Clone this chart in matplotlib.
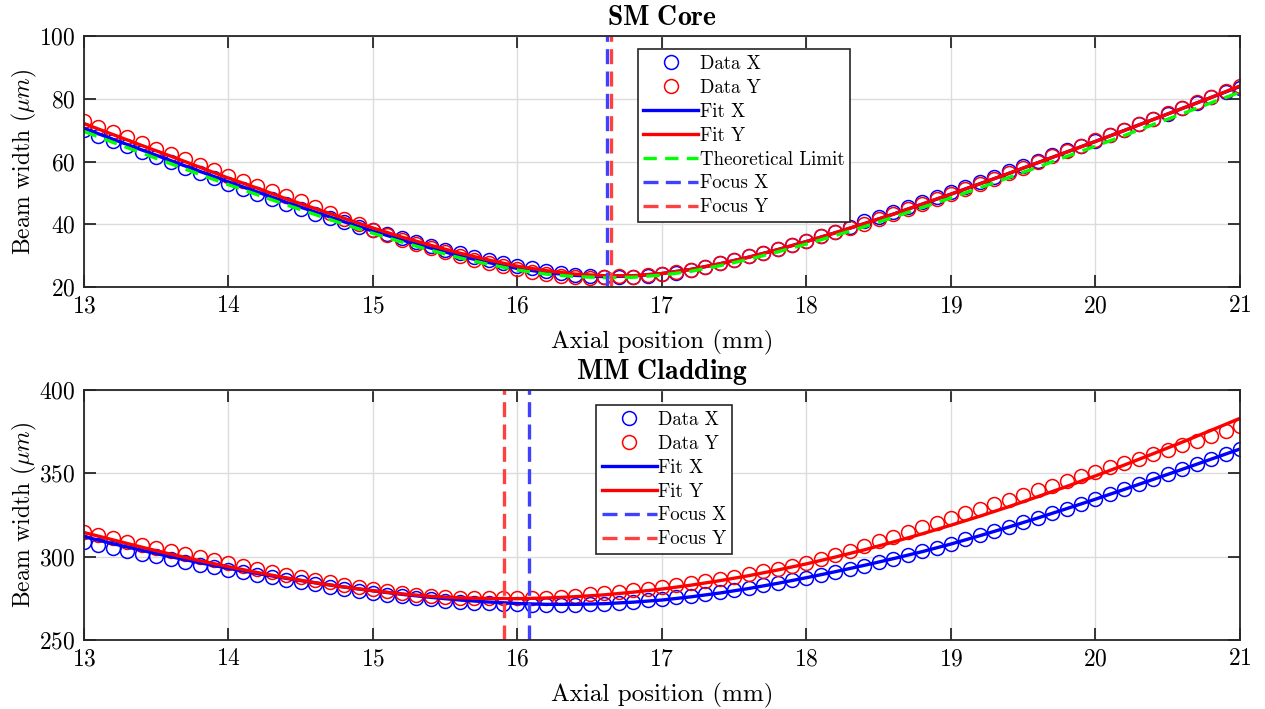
import numpy as np
import matplotlib
matplotlib.use("Agg")
import matplotlib.pyplot as plt

# axial positions (mm): measured points every 0.1 mm, fit curves every 0.2 mm
z_data = np.arange(130, 211) / 10
z_fit = np.arange(65, 106) / 5

# SM core (um)
sm_data_x = [70.0, 68.2, 66.5, 64.8, 63.1, 61.4, 59.7, 57.9, 56.3, 54.6,
             52.9, 51.3, 49.7, 48.0, 46.4, 44.9, 43.3, 42.0, 40.6, 39.2,
             38.2, 36.9, 35.7, 34.4, 33.2, 31.9, 30.7, 29.6, 28.6, 27.6,
             26.7, 25.9, 25.1, 24.4, 23.9, 23.5, 23.2, 23.1, 23.3, 23.6,
             24.0, 24.6, 25.3, 26.3, 27.5, 28.7, 29.8, 30.9, 32.2, 33.4,
             34.8, 36.1, 37.6, 39.2, 40.9, 42.4, 43.9, 45.5, 47.1, 48.7,
             50.3, 51.9, 53.6, 55.2, 56.9, 58.6, 60.3, 62.0, 63.7, 64.9,
             66.6, 68.3, 70.1, 71.8, 73.5, 75.3, 77.0, 78.8, 80.6, 82.3,
             83.3]
sm_data_y = [72.8, 71.1, 69.4, 67.7, 66.0, 64.1, 62.4, 60.7, 59.0, 57.4,
             55.5, 53.9, 52.3, 50.6, 49.0, 47.3, 45.5, 43.6, 41.8, 40.0,
             38.2, 36.5, 35.0, 33.7, 32.4, 31.0, 29.8, 28.7, 27.6, 26.7,
             25.6, 24.9, 24.3, 23.5, 23.2, 22.9, 23.3, 23.4, 23.3, 23.7,
             24.1, 24.7, 25.4, 26.5, 27.7, 28.7, 29.8, 30.9, 32.2, 33.4,
             34.8, 36.1, 37.6, 38.7, 40.2, 41.7, 43.2, 44.8, 46.4, 48.0,
             49.6, 51.2, 52.9, 54.5, 56.2, 58.0, 59.7, 61.6, 63.3, 65.0,
             66.7, 68.4, 70.2, 71.9, 73.7, 75.4, 77.2, 78.9, 80.7, 82.4,
             84.2]
sm_fit_x = [70.6, 67.1, 63.7, 60.3, 56.9, 53.5, 50.3, 47.0, 43.9, 40.8,
            37.8, 35.0, 32.4, 29.9, 27.8, 25.9, 24.6, 23.7, 23.3, 23.5,
            24.3, 25.6, 27.4, 29.5, 31.9, 34.5, 37.3, 40.2, 43.2, 46.4,
            49.6, 52.9, 56.2, 59.6, 63.0, 66.4, 69.9, 73.4, 76.9, 80.4,
            83.9]
sm_fit_y = [72.1, 68.6, 65.1, 61.7, 58.2, 54.7, 51.5, 48.1, 45.0, 41.9,
            38.8, 35.9, 33.3, 30.8, 28.6, 26.6, 25.2, 24.1, 23.6, 23.6,
            24.3, 25.6, 27.4, 29.5, 31.9, 34.5, 37.3, 40.2, 43.2, 46.4,
            49.6, 52.9, 56.2, 59.6, 63.0, 66.4, 69.9, 73.4, 76.9, 80.4,
            84.1]
sm_theory = [69.6, 66.1, 62.7, 59.3, 55.9, 52.6, 49.4, 46.2, 43.1, 40.0,
             37.1, 34.3, 31.7, 29.3, 27.2, 25.4, 24.1, 23.3, 23.0, 23.1,
             23.8, 25.0, 26.8, 28.8, 31.2, 33.7, 36.4, 39.2, 42.2, 45.3,
             48.4, 51.6, 54.9, 58.2, 61.6, 64.9, 68.3, 71.8, 75.2, 78.7,
             82.1]
sm_focus_x = 16.62
sm_focus_y = 16.65

# MM cladding (um)
mm_data_x = [309.0, 307.2, 305.4, 303.6, 301.9, 300.2, 298.5, 296.9, 295.3, 293.7,
             292.1, 290.6, 289.1, 287.6, 286.2, 284.8, 283.4, 282.1, 280.8, 279.6,
             278.4, 277.2, 276.2, 275.2, 274.4, 273.6, 273.0, 272.5, 272.1, 271.8,
             271.5, 271.2, 271.0, 271.0, 271.2, 271.5, 271.9, 272.5, 273.1, 273.9,
             274.7, 275.6, 276.6, 277.7, 278.9, 280.1, 281.4, 282.8, 284.3, 285.8,
             287.4, 289.1, 290.9, 292.8, 294.7, 296.7, 298.8, 300.9, 303.2, 305.5,
             307.9, 310.4, 312.9, 315.4, 318.0, 320.7, 323.4, 326.1, 328.9, 331.8,
             334.7, 337.6, 340.6, 343.5, 346.5, 349.5, 352.5, 355.5, 358.5, 361.5,
             364.6]
mm_data_y = [315.0, 313.0, 311.0, 309.1, 307.1, 305.2, 303.4, 301.5, 299.7, 297.9,
             296.1, 294.4, 292.6, 291.0, 289.3, 287.7, 286.2, 284.6, 283.2, 281.7,
             280.4, 279.2, 278.2, 277.3, 276.5, 275.9, 275.5, 275.2, 275.0, 275.0,
             275.0, 275.2, 275.5, 276.0, 276.7, 277.5, 278.3, 279.1, 279.9, 280.7,
             281.6, 282.8, 284.1, 285.4, 286.7, 288.1, 289.6, 291.2, 292.8, 294.5,
             296.3, 298.6, 301.1, 303.7, 306.4, 309.2, 312.0, 314.8, 317.6, 320.4,
             323.3, 326.0, 328.8, 331.5, 334.3, 337.1, 339.8, 342.6, 345.4, 348.2,
             351.0, 353.6, 356.2, 358.8, 361.4, 364.0, 366.8, 369.6, 372.4, 375.2,
             378.2]
mm_fit_x = [312.0, 307.8, 303.8, 300.0, 296.4, 293.0, 289.9, 287.0, 284.3, 281.8,
            279.5, 277.4, 275.6, 274.0, 272.8, 271.9, 271.4, 271.4, 271.8, 272.7,
            274.0, 275.9, 278.2, 280.9, 284.0, 287.4, 291.0, 294.8, 298.8, 303.0,
            307.6, 312.6, 317.8, 323.2, 328.8, 334.5, 340.4, 346.4, 352.4, 358.5,
            364.6]
mm_fit_y = [314.5, 310.1, 305.7, 301.5, 297.6, 294.0, 290.5, 287.3, 284.4, 281.8,
            279.6, 277.7, 276.2, 275.3, 274.9, 274.8, 275.2, 276.0, 277.1, 278.7,
            280.6, 282.9, 285.6, 288.6, 292.0, 295.7, 299.8, 304.1, 308.8, 313.7,
            318.9, 324.3, 330.0, 336.0, 342.1, 348.5, 355.0, 361.8, 368.7, 375.8,
            383.0]
mm_focus_x = 16.08
mm_focus_y = 15.91

plt.rcParams["font.family"] = "serif"
plt.rcParams["font.serif"] = ["cmr10"]
plt.rcParams["mathtext.fontset"] = "cm"
plt.rcParams["axes.formatter.use_mathtext"] = True

fig = plt.figure(figsize=(12.65, 7.09), dpi=100)
ax1 = fig.add_axes([0.0664, 0.5952, 0.9138, 0.354])
ax2 = fig.add_axes([0.0664, 0.0973, 0.9138, 0.3526])

dash = (0, (4.5, 2.2))
fx_col = (0.25, 0.25, 1.0)
fy_col = (1.0, 0.25, 0.25)


def panel(ax, dx, dy, fx, fy, zx, zy, title, ylim, yticks, theory=None):
    ax.plot(z_data, dx, "o", mfc="none", mec="b", ms=10, mew=1.1, label="Data X")
    ax.plot(z_data, dy, "o", mfc="none", mec="r", ms=10, mew=1.1, label="Data Y")
    ax.plot(z_fit, fx, "-", color="b", lw=2.4, label="Fit X")
    ax.plot(z_fit, fy, "-", color="r", lw=2.4, label="Fit Y")
    if theory is not None:
        ax.plot(z_fit, theory, color=(0, 1, 0), lw=2.4, ls=(0, (4, 2.5)),
                label="Theoretical Limit")
    ax.axvline(zx, color=fx_col, lw=2.4, ls=dash, label="Focus X")
    ax.axvline(zy, color=fy_col, lw=2.4, ls=dash, label="Focus Y")
    ax.set_xlim(13, 21)
    ax.set_ylim(*ylim)
    ax.set_xticks(range(13, 22))
    ax.set_yticks(yticks)
    ax.grid(True, color="#dcdcdc", lw=1)
    ax.set_axisbelow(True)
    for s in ax.spines.values():
        s.set_color("#262626")
        s.set_linewidth(1.3)
    ax.tick_params(direction="in", top=True, right=True, length=8.5,
                   width=1.3, color="#262626", labelsize=17, pad=6)
    ax.set_xlabel("Axial position (mm)", fontsize=18, labelpad=9)
    ax.set_ylabel(r"Beam width ($\mu m$)", fontsize=17, labelpad=0)
    ax.set_title(title, fontsize=20, pad=8)


panel(ax1, sm_data_x, sm_data_y, sm_fit_x, sm_fit_y, sm_focus_x, sm_focus_y,
      r"$\mathbf{SM\ Core}$", (20, 100), [20, 40, 60, 80, 100], theory=sm_theory)
panel(ax2, mm_data_x, mm_data_y, mm_fit_x, mm_fit_y, mm_focus_x, mm_focus_y,
      r"$\mathbf{MM\ Cladding}$", (250, 400), [250, 300, 350, 400])

for ax, anchor in [(ax1, (0.479, 0.948)), (ax2, (0.443, 0.94))]:
    leg = ax.legend(loc="upper left", bbox_to_anchor=anchor, borderaxespad=0,
                    fontsize=13.6, numpoints=1, handlelength=2.9,
                    handletextpad=0.1, labelspacing=0.32, borderpad=0.3,
                    fancybox=False, framealpha=1, edgecolor="#262626")
    leg.get_frame().set_linewidth(1.2)

fig.savefig("out.png", dpi=100)
